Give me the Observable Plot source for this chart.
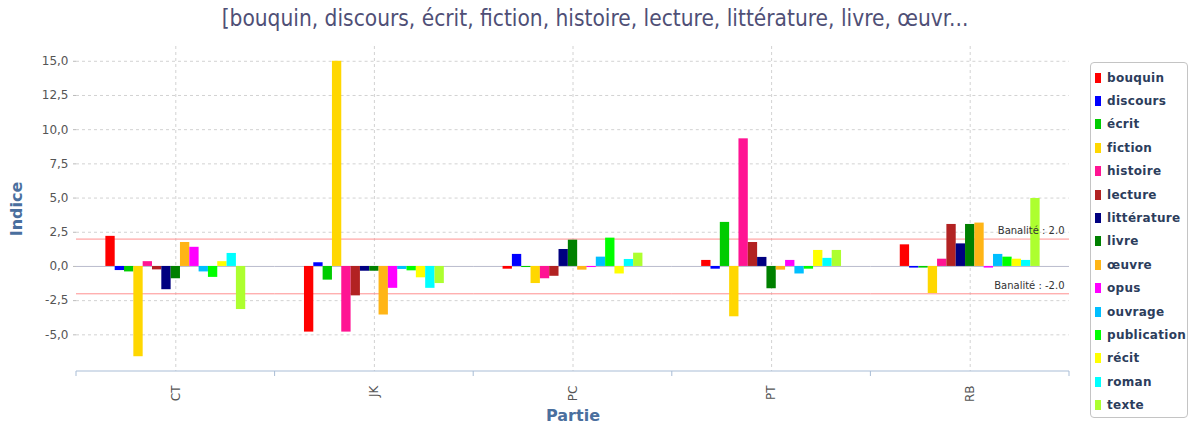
<!DOCTYPE html>
<html><head><meta charset="utf-8">
<script src="https://cdn.jsdelivr.net/npm/d3@7"></script>
<script src="https://cdn.jsdelivr.net/npm/@observablehq/plot@0.6"></script>
<style>
body{margin:0;background:#fff;width:1190px;height:425px;overflow:hidden;position:relative;font-family:"DejaVu Sans",sans-serif}
#title{position:absolute;left:0;top:5px;width:1190px;text-align:center;font-family:"Liberation Sans Narrow","DejaVu Sans Condensed",sans-serif;font-size:22.5px;color:#4f4f76;white-space:nowrap}
#chart{position:absolute;left:0;top:40px}
#legend{position:absolute;left:1090px;top:62px;width:98px;height:356px;border:1px solid #c4c4c4;border-radius:4px;box-sizing:border-box;padding-top:3px}
.item{height:23.4px;display:flex;align-items:center;font-size:12px;font-weight:bold;color:#2c3d5c;letter-spacing:0.3px}
.sw{width:6px;height:10px;margin:0 6px 0 4px;flex:none}
g[aria-label="y-axis label"] text, g[aria-label="fx-axis label"] text{fill:#4a6f9e;font-weight:bold;font-size:16px}
</style>
</head><body>
<div id="title"></div>
<div id="chart"></div>
<div id="legend"></div>
<script>
const titre = "[bouquin, discours, écrit, fiction, histoire, lecture, littérature, livre, œuvr...";
const parties = ["CT", "JK", "PC", "PT", "RB"];
const mots = ["bouquin","discours","écrit","fiction","histoire","lecture","littérature","livre","œuvre","opus","ouvrage","publication","récit","roman","texte"];
const couleurs = ["#ff0000","#0000ff","#00cc00","#ffd700","#ff1493","#b22222","#000080","#008000","#ffb516","#ff00ff","#00bfff","#00ff00","#ffff00","#00ffff","#adff2f"];
const valeursCT = [2.2, -0.3, -0.4, -6.6, 0.35, -0.25, -1.7, -0.9, 1.75, 1.4, -0.4, -0.8, 0.35, 0.95, -3.15];
const valeursJK = [-4.8, 0.27, -1.0, 15.0, -4.8, -2.15, -0.35, -0.35, -3.55, -1.6, -0.22, -0.32, -0.83, -1.6, -1.25];
const valeursPC = [-0.2, 0.88, -0.08, -1.25, -0.9, -0.72, 1.24, 1.92, -0.27, -0.08, 0.68, 2.07, -0.55, 0.51, 0.97];
const valeursPT = [0.44, -0.2, 3.22, -3.68, 9.33, 1.75, 0.66, -1.63, -0.27, 0.44, -0.55, -0.2, 1.17, 0.59, 1.17];
const valeursRB = [1.58, -0.12, -0.12, -1.98, 0.53, 3.07, 1.65, 3.07, 3.17, -0.12, 0.88, 0.68, 0.53, 0.44, 4.97];
const valeurs = [valeursCT, valeursJK, valeursPC, valeursPT, valeursRB];
const yTicks = [-5, -2.5, 0, 2.5, 5, 7.5, 10, 12.5, 15];
const banalites = [2.0, -2.0];
const banaliteLabels = ["Banalité : 2.0", "Banalité : -2.0"];
const banalitePartie = "RB";

document.getElementById("title").textContent = titre;

const data = [];
parties.forEach((p, i) => mots.forEach((m, j) => data.push({partie: p, mot: m, indice: valeurs[i][j]})));
const bandes = banalites.map((v, i) => ({partie: banalitePartie, y: v, t: banaliteLabels[i]}));

const W = 1085, H = 385;
const chart = Plot.plot({
  width: W, height: H,
  marginTop: 6, marginBottom: 54, marginLeft: 76, marginRight: 16,
  style: {fontFamily: "DejaVu Sans, sans-serif", fontSize: "11px", color: "#555"},
  fx: {domain: parties, padding: 0, round: false},
  x: {domain: mots, paddingInner: 0, paddingOuter: 3.15, round: false, axis: null},
  y: {domain: [-7.68, 16.08]},
  color: {domain: mots, range: couleurs},
  marks: [
    Plot.gridY(yTicks.filter(d => d !== 0), {stroke: "#d2d2d2", strokeOpacity: 1, strokeDasharray: "3,3"}),
    Plot.gridFx({stroke: "#d2d2d2", strokeOpacity: 1, strokeDasharray: "3,3"}),
    Plot.ruleY([0], {stroke: "#b9bccd"}),
    Plot.ruleY(banalites, {stroke: "#ff8f8f"}),
    Plot.barY(data, {fx: "partie", x: "mot", y: "indice", fill: "mot"}),
    Plot.text(bandes, {fx: "partie", y: "y", text: "t", frameAnchor: "right", textAnchor: "end", dx: -5, dy: -8, fontSize: 10, fill: "#333"}),
    Plot.axisY(yTicks, {tickFormat: d => d.toFixed(1).replace(".", ","), tickSize: 3, tickPadding: 5, stroke: "#bbb", fontSize: 12, label: "Indice", labelAnchor: "center", labelOffset: 66, labelArrow: false}),
    Plot.axisFx({anchor: "bottom", tickRotate: -90, tickSize: 0, tickPadding: 14, fontSize: 12, label: "Partie", labelAnchor: "center", labelOffset: 49, labelArrow: false})
  ]
});
document.getElementById("chart").appendChild(chart);

// axis line with ticks at category boundaries, derived from the scales
const fx = chart.scale("fx");
const ys = chart.scale("y");
const yb = Math.max(...ys.range);
const bw = fx.bandwidth ?? ((Math.max(...fx.range) - Math.min(...fx.range)) / parties.length);
const edges = parties.map(p => fx.apply(p)).concat([fx.apply(parties[parties.length - 1]) + bw]);
const g = d3.select(chart).append("g").attr("stroke", "#a9bdd6");
g.append("line").attr("x1", edges[0]).attr("x2", edges[edges.length - 1]).attr("y1", yb).attr("y2", yb);
edges.forEach(e => g.append("line").attr("x1", e).attr("x2", e).attr("y1", yb).attr("y2", yb + 5));

// legend
const leg = document.getElementById("legend");
mots.forEach((m, i) => {
  const it = document.createElement("div"); it.className = "item";
  const sw = document.createElement("span"); sw.className = "sw"; sw.style.background = couleurs[i];
  const tx = document.createElement("span"); tx.textContent = m;
  it.appendChild(sw); it.appendChild(tx); leg.appendChild(it);
});
</script>
</body></html>
